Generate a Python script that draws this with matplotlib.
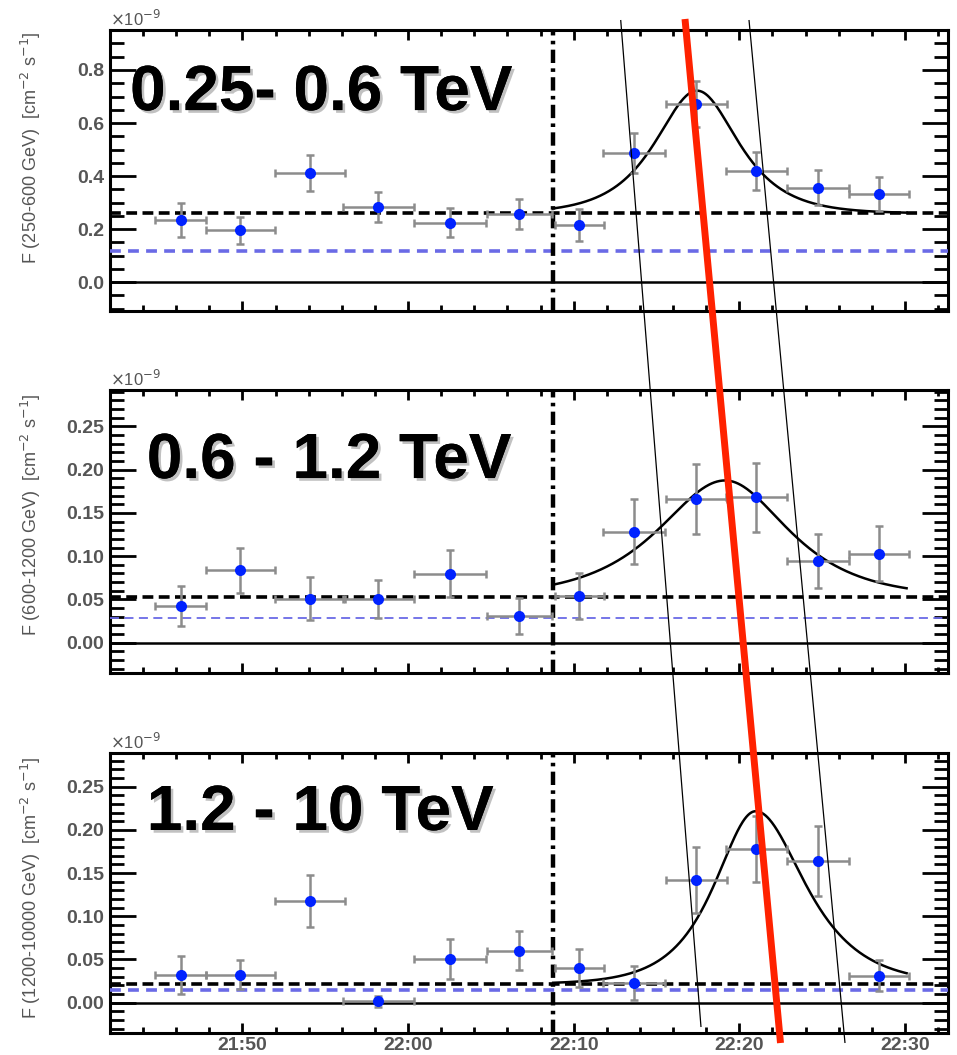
import numpy as np
import matplotlib as mpl
import matplotlib.pyplot as plt
import matplotlib.patheffects as pe
from matplotlib.lines import Line2D
from matplotlib.ticker import MultipleLocator, FuncFormatter

# Time bins, minutes after 21:00
t_center = [46.26, 49.88, 54.10, 58.21, 62.55, 66.71,
            70.33, 73.65, 77.39, 81.01, 84.75, 88.43]
t_halfwidth = [1.54, 2.11, 2.11, 2.12, 2.17, 1.96,
               1.48, 1.87, 1.84, 1.84, 1.87, 1.81]

# Fluxes (x 1e-9 cm^-2 s^-1) and symmetric errors
flux_low = [0.234, 0.196, 0.412, 0.282, 0.224, 0.257,
            0.214, 0.486, 0.672, 0.420, 0.356, 0.332]
err_low = [0.064, 0.051, 0.068, 0.057, 0.055, 0.055,
           0.060, 0.075, 0.088, 0.072, 0.065, 0.064]
flux_mid = [0.042, 0.0835, 0.051, 0.0504, 0.0797, 0.031,
            0.054, 0.1285, 0.166, 0.168, 0.0947, 0.1028]
err_mid = [0.023, 0.026, 0.025, 0.022, 0.027, 0.021,
           0.027, 0.037, 0.040, 0.040, 0.031, 0.032]
flux_high = [0.032, 0.0323, 0.1174, 0.0015, 0.0508, 0.0604,
             0.0396, 0.0227, 0.142, 0.178, 0.164, 0.031]
err_high = [0.022, 0.017, 0.030, 0.006, 0.023, 0.023,
            0.022, 0.020, 0.038, 0.038, 0.040, 0.018]

# Reference levels: black = mean flux, blue = Crab-like level
mean_level = [0.259, 0.0527, 0.0216]
blue_level = [0.118, 0.0285, 0.015]

# Flare fit: baseline, amplitude, peak time, rise and decay widths (min)
fit_base = [0.259, 0.0527, 0.0216]
fit_amp = [0.463, 0.1348, 0.200]
fit_peak = [77.45, 79.14, 80.99]
fit_rise = [2.23, 3.54, 2.18]
fit_decay = [2.20, 3.35, 2.63]
fit_range = (68.76, 90.1)

split_time = 68.76

band_labels = ["0.25- 0.6 TeV", "0.6 - 1.2 TeV", "1.2 - 10 TeV"]
y_labels = [r"F (250-600 GeV)  [cm$^{-2}$ s$^{-1}$]",
            r"F (600-1200 GeV)  [cm$^{-2}$ s$^{-1}$]",
            r"F (1200-10000 GeV)  [cm$^{-2}$ s$^{-1}$]"]

mpl.rcParams.update({
    "font.family": ["Liberation Sans", "DejaVu Sans"],
    "axes.linewidth": 2.2,
    "xtick.direction": "in",
    "ytick.direction": "in",
})

GRAY_TXT = "#555555"
BLUE_DASH = "#6a6ae6"

fig = plt.figure(figsize=(9.57, 10.55), dpi=100)
rects = [[0.1149, 0.7052, 0.8757, 0.2664],
         [0.1149, 0.3621, 0.8757, 0.2682],
         [0.1149, 0.0209, 0.8757, 0.2654]]
ylims = [(-0.109, 0.951), (-0.035, 0.292), (-0.035, 0.289)]
ymajor = [0.2, 0.05, 0.05]
yminor = [0.05, 0.01, 0.01]
yfmt = ["{:.1f}", "{:.2f}", "{:.2f}"]
blue_lw = [2.6, 1.3, 2.6]
label_pos = [(0.024, 0.715), (0.044, 0.689), (0.044, 0.725)]
ylab_y = [0.58, 0.56, 0.52]

fluxes = [flux_low, flux_mid, flux_high]
errors = [err_low, err_mid, err_high]


def clock(m, pos):
    m = int(round(m))
    return f"{21 + m // 60}:{m % 60:02d}"


for i in range(3):
    ax = fig.add_axes(rects[i])
    ax.set_xlim(42.0, 92.6)
    ax.set_ylim(*ylims[i])

    ax.axhline(0, color="black", lw=1.8, zorder=2)
    ax.axhline(mean_level[i], color="black", lw=2.6, dashes=(3, 1.5), zorder=3)
    ax.axhline(blue_level[i], color=BLUE_DASH, lw=blue_lw[i],
               dashes=(3, 2) if blue_lw[i] > 2 else (5, 3), zorder=3)
    ax.axvline(split_time, color="black", lw=3.2,
               dashes=(3, 1.2, 0.8, 1.2), zorder=4)

    t = np.linspace(fit_range[0], fit_range[1], 400)
    w = np.where(t < fit_peak[i], fit_rise[i], fit_decay[i])
    curve = fit_base[i] + fit_amp[i] / np.cosh((t - fit_peak[i]) / w)
    ax.plot(t, curve, color="black", lw=1.8, zorder=5)

    ax.errorbar(t_center, fluxes[i], xerr=t_halfwidth, yerr=errors[i],
                fmt="o", color="#0022ff", ms=8, mec="none",
                ecolor="#8c8c8c", elinewidth=1.8, capsize=3, capthick=1.8,
                zorder=6)

    ax.xaxis.set_major_locator(MultipleLocator(10))
    ax.xaxis.set_minor_locator(MultipleLocator(2))
    ax.yaxis.set_major_locator(MultipleLocator(ymajor[i]))
    ax.yaxis.set_minor_locator(MultipleLocator(yminor[i]))
    ax.tick_params(axis="both", which="both", top=True, right=True,
                   colors="black", labelcolor=GRAY_TXT)
    ax.tick_params(axis="y", which="major", length=19, width=2.0)
    ax.tick_params(axis="y", which="minor", length=10, width=2.0)
    ax.tick_params(axis="x", which="major", length=7, width=2.0, pad=3)
    ax.tick_params(axis="x", which="minor", length=4, width=2.0)
    ax.tick_params(axis="y", labelsize=14, pad=4)
    ax.tick_params(axis="x", labelsize=14)
    fmt = yfmt[i]
    ax.yaxis.set_major_formatter(FuncFormatter(lambda v, p, f=fmt: f.format(v)))
    for lab in ax.get_yticklabels() + ax.get_xticklabels():
        lab.set_fontweight("bold")
    if i < 2:
        ax.tick_params(axis="x", labelbottom=False)
    else:
        ax.xaxis.set_major_formatter(FuncFormatter(clock))
        for lab in ax.get_xticklabels():
            lab.set_fontweight("bold")

    ax.set_ylabel(y_labels[i], fontsize=13, color=GRAY_TXT)
    ax.yaxis.set_label_coords(-0.08, ylab_y[i])

    ax.text(0.0, 1.005, r"$\times$10$^{-9}$", transform=ax.transAxes,
            fontsize=12, color=GRAY_TXT, ha="left", va="bottom")

    ax.text(label_pos[i][0], label_pos[i][1], band_labels[i],
            transform=ax.transAxes, fontsize=46, fontweight="bold",
            color="black", ha="left", va="baseline", zorder=10,
            path_effects=[pe.withSimplePatchShadow(offset=(2, -2),
                                                   shadow_rgbFace="#777777",
                                                   alpha=0.45),
                          pe.Normal()])

# Slanted guide lines drawn across all panels (figure pixels)
W, H = 957, 1055
guides = [((620.7, 20), (701, 1027), "black", 0.9),
          ((749, 20), (845, 1043), "black", 0.9),
          ((685, 19), (780.5, 1043), "#ff2200", 5.0)]
for (x0, y0), (x1, y1), c, lw in guides:
    fig.add_artist(Line2D([x0 / W, x1 / W], [1 - y0 / H, 1 - y1 / H],
                          transform=fig.transFigure, color=c, lw=lw,
                          solid_capstyle="butt", zorder=20))

fig.savefig("out.png", dpi=100)
